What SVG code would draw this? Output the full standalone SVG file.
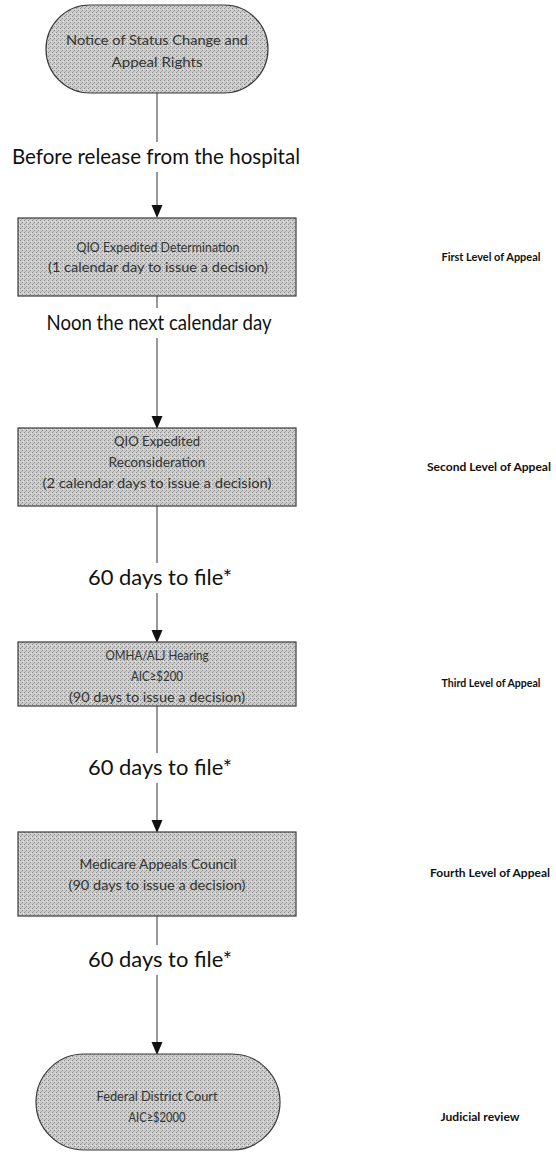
<svg xmlns="http://www.w3.org/2000/svg" width="556" height="1155" viewBox="0 0 556 1155">
<style>
.node{fill:url(#stip);stroke:#3a3a3a;stroke-width:1.2}
.nt{font-family:Lato,"Open Sans",sans-serif;font-size:13px;fill:#333;text-anchor:middle}
.lab{font-family:Lato,"Open Sans",sans-serif;font-size:21px;fill:#111;text-anchor:middle}
.lvl{font-family:Lato,"Open Sans",sans-serif;font-size:11.5px;font-weight:bold;fill:#111;text-anchor:middle}
.edge{stroke:#333;stroke-width:1;fill:none}
.ah{fill:#111}
</style>
<defs>
<pattern id="stip" width="4" height="4" patternUnits="userSpaceOnUse">
<rect width="4" height="4" fill="#cdcdcd"/>
<rect x="0" y="0" width="1" height="1" fill="#888"/>
<rect x="2" y="2" width="1" height="1" fill="#888"/>
<rect x="3" y="1" width="1" height="1" fill="#e6e6e6"/>
<rect x="1" y="3" width="1" height="1" fill="#a8a8a8"/>
</pattern>
</defs>
<rect width="556" height="1155" fill="#fff"/>

<g id="connectors">
<line class="edge" x1="157" y1="93" x2="157" y2="142"/>
<line class="edge" x1="157" y1="172" x2="157" y2="206"/>
<polygon class="ah" points="151.5,205 162.5,205 157,218"/>
<text class="lab" x="156" y="164" textLength="288" lengthAdjust="spacingAndGlyphs">Before release from the hospital</text>

<line class="edge" x1="157" y1="296" x2="157" y2="308"/>
<line class="edge" x1="157" y1="338" x2="157" y2="417"/>
<polygon class="ah" points="151.5,416 162.5,416 157,429"/>
<text class="lab" x="159" y="330" textLength="225" lengthAdjust="spacingAndGlyphs">Noon the next calendar day</text>

<line class="edge" x1="157" y1="506" x2="157" y2="563"/>
<line class="edge" x1="157" y1="593" x2="157" y2="631"/>
<polygon class="ah" points="151.5,630 162.5,630 157,643"/>
<text class="lab" x="160" y="585" textLength="144" lengthAdjust="spacingAndGlyphs">60 days to file*</text>

<line class="edge" x1="157" y1="706" x2="157" y2="753"/>
<line class="edge" x1="157" y1="783" x2="157" y2="821"/>
<polygon class="ah" points="151.5,820 162.5,820 157,833"/>
<text class="lab" x="160" y="775" textLength="144" lengthAdjust="spacingAndGlyphs">60 days to file*</text>

<line class="edge" x1="157" y1="916" x2="157" y2="945"/>
<line class="edge" x1="157" y1="975" x2="157" y2="1043"/>
<polygon class="ah" points="151.5,1042 162.5,1042 157,1055"/>
<text class="lab" x="160" y="967" textLength="144" lengthAdjust="spacingAndGlyphs">60 days to file*</text>
</g>

<g id="n-notice">
<rect class="node" x="46" y="5" width="222" height="88" rx="44" ry="44"/>
<text class="nt" x="157" y="45" textLength="182" lengthAdjust="spacingAndGlyphs">Notice of Status Change and</text>
<text class="nt" x="157" y="67" textLength="91" lengthAdjust="spacingAndGlyphs">Appeal Rights</text>
</g>

<g id="n-qio-det">
<rect class="node" x="18" y="218" width="278" height="78"/>
<text class="nt" x="158" y="252" textLength="163" lengthAdjust="spacingAndGlyphs">QIO Expedited Determination</text>
<text class="nt" x="158" y="272" textLength="220" lengthAdjust="spacingAndGlyphs">(1 calendar day to issue a decision)</text>
</g>
<text class="lvl" x="491" y="261" textLength="99" lengthAdjust="spacingAndGlyphs">First Level of Appeal</text>

<g id="n-qio-recon">
<rect class="node" x="18" y="428" width="278" height="78"/>
<text class="nt" x="157" y="446" textLength="86" lengthAdjust="spacingAndGlyphs">QIO Expedited</text>
<text class="nt" x="157" y="467" textLength="97" lengthAdjust="spacingAndGlyphs">Reconsideration</text>
<text class="nt" x="157" y="488" textLength="229" lengthAdjust="spacingAndGlyphs">(2 calendar days to issue a decision)</text>
</g>
<text class="lvl" x="489" y="471" textLength="124" lengthAdjust="spacingAndGlyphs">Second Level of Appeal</text>

<g id="n-omha">
<rect class="node" x="18" y="642" width="278" height="64"/>
<text class="nt" x="157" y="660" textLength="103" lengthAdjust="spacingAndGlyphs">OMHA/ALJ Hearing</text>
<text class="nt" x="157" y="681" textLength="52" lengthAdjust="spacingAndGlyphs">AIC≥$200</text>
<text class="nt" x="157" y="702" textLength="176" lengthAdjust="spacingAndGlyphs">(90 days to issue a decision)</text>
</g>
<text class="lvl" x="491" y="687" textLength="99" lengthAdjust="spacingAndGlyphs">Third Level of Appeal</text>

<g id="n-council">
<rect class="node" x="18" y="832" width="278" height="84"/>
<text class="nt" x="158" y="869" textLength="157" lengthAdjust="spacingAndGlyphs">Medicare Appeals Council</text>
<text class="nt" x="157" y="890" textLength="177" lengthAdjust="spacingAndGlyphs">(90 days to issue a decision)</text>
</g>
<text class="lvl" x="490" y="877" textLength="120" lengthAdjust="spacingAndGlyphs">Fourth Level of Appeal</text>

<g id="n-court">
<rect class="node" x="36" y="1054" width="244" height="96" rx="48" ry="48"/>
<text class="nt" x="157" y="1101" textLength="121" lengthAdjust="spacingAndGlyphs">Federal District Court</text>
<text class="nt" x="157" y="1122" textLength="57" lengthAdjust="spacingAndGlyphs">AIC≥$2000</text>
</g>
<text class="lvl" x="480" y="1121" textLength="79" lengthAdjust="spacingAndGlyphs">Judicial review</text>
</svg>
